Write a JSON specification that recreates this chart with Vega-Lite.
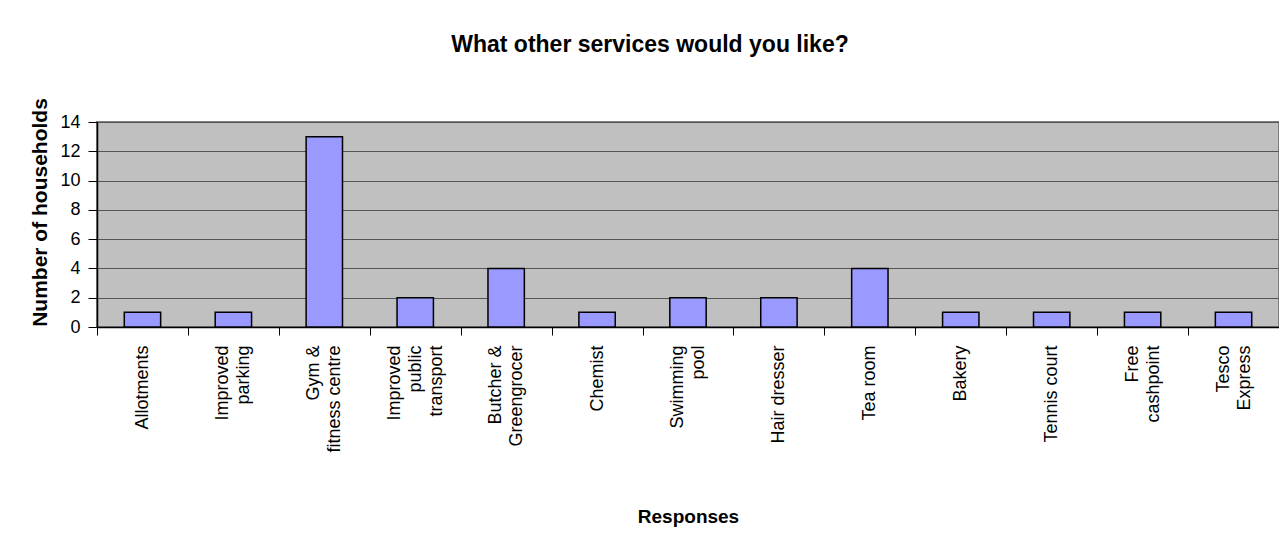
{
  "$schema": "https://vega.github.io/schema/vega-lite/v6.json",
  "autosize": "none",
  "width": 1182,
  "height": 205,
  "padding": {"left": 97, "top": 122, "right": 0, "bottom": 222},
  "background": "white",
  "title": {
    "text": "What other services would you like?",
    "font": "Liberation Sans",
    "fontSize": 23,
    "fontWeight": "bold",
    "color": "black",
    "anchor": "middle",
    "frame": "group",
    "dx": -38,
    "dy": -37
  },
  "data": {
    "values": [
      {"response": "Allotments", "households": 1},
      {"response": "Improved parking", "households": 1},
      {"response": "Gym & fitness centre", "households": 13},
      {"response": "Improved public transport", "households": 2},
      {"response": "Butcher & Greengrocer", "households": 4},
      {"response": "Chemist", "households": 1},
      {"response": "Swimming pool", "households": 2},
      {"response": "Hair dresser", "households": 2},
      {"response": "Tea room", "households": 4},
      {"response": "Bakery", "households": 1},
      {"response": "Tennis court", "households": 1},
      {"response": "Free cashpoint", "households": 1},
      {"response": "Tesco Express", "households": 1}
    ]
  },
  "mark": {"type": "bar", "fill": "#9999FF", "stroke": "black", "strokeWidth": 1.5},
  "encoding": {
    "x": {
      "field": "response",
      "type": "nominal",
      "sort": null,
      "scale": {"paddingInner": 0.6, "paddingOuter": 0.3},
      "axis": {
        "title": "Responses",
        "titleFont": "Liberation Sans",
        "titleFontSize": 19,
        "titleFontWeight": "bold",
        "titleColor": "black",
        "titleX": 591,
        "titleY": 195,
        "titleAlign": "center",
        "titleBaseline": "alphabetic",
        "labelAngle": -90,
        "labelFont": "Liberation Sans",
        "labelFontSize": 18,
        "labelColor": "black",
        "labelLineHeight": 21,
        "labelPadding": 10,
        "labelExpr": "datum.value == 'Gym & fitness centre' ? ['Gym &', 'fitness centre'] : datum.value == 'Butcher & Greengrocer' ? ['Butcher &', 'Greengrocer'] : indexof(['Hair dresser','Tea room','Tennis court'], datum.value) >= 0 ? datum.value : split(datum.value, ' ')",
        "tickOffset": -45.46,
        "labelOffset": {
          "condition": [
            {"test": "datum.value == 'Improved public transport'", "value": 24.46},
            {"test": "indexof(['Improved parking','Gym & fitness centre','Butcher & Greengrocer','Swimming pool','Free cashpoint','Tesco Express'], datum.value) >= 0", "value": 34.96}
          ],
          "value": 45.46
        },
        "tickSize": 8,
        "tickColor": "black",
        "domainColor": "black",
        "domainWidth": 1.5,
        "labelOverlap": false,
        "labelLimit": 300
      }
    },
    "y": {
      "field": "households",
      "type": "quantitative",
      "scale": {"domain": [0, 14]},
      "axis": {
        "title": "Number of households",
        "titleFont": "Liberation Sans",
        "titleFontSize": 21,
        "titleFontWeight": "bold",
        "titleColor": "black",
        "titleAngle": -90,
        "titleX": -57,
        "titleY": 90,
        "titleAlign": "center",
        "titleBaseline": "middle",
        "values": [0, 2, 4, 6, 8, 10, 12, 14],
        "labelFont": "Liberation Sans",
        "labelFontSize": 18,
        "labelColor": "black",
        "labelPadding": 8,
        "tickSize": 9,
        "tickColor": "black",
        "domainColor": "black",
        "domainWidth": 1.5,
        "grid": true,
        "gridColor": "#555555",
        "gridWidth": 1,
        "gridOpacity": 1
      }
    }
  },
  "config": {
    "view": {"fill": "#C0C0C0", "stroke": "#7F7F7F", "strokeWidth": 2}
  }
}
